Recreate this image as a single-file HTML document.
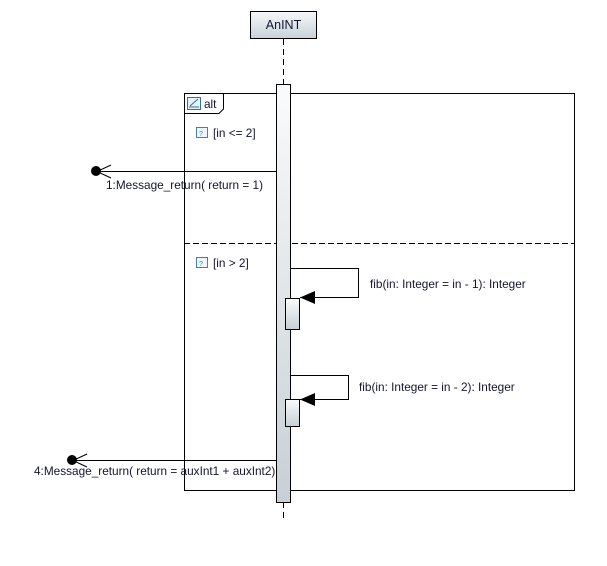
<!DOCTYPE html>
<html><head><meta charset="utf-8"><style>
html,body{margin:0;padding:0;background:#fff}
svg text{font-family:"Liberation Sans",sans-serif;font-size:11.8px;fill:#141430}
</style></head><body>
<svg width="607" height="561" viewBox="0 0 607 561" xmlns="http://www.w3.org/2000/svg">
<defs>
<linearGradient id="g" x1="0" y1="0" x2="0" y2="1"><stop offset="0" stop-color="#f6f8fa"/><stop offset="1" stop-color="#c8d2d8"/></linearGradient>
<linearGradient id="ga" x1="0" y1="0" x2="0" y2="1"><stop offset="0" stop-color="#fafbfc"/><stop offset="1" stop-color="#c6d0d6"/></linearGradient>
</defs>
<rect x="250.5" y="11.5" width="66" height="27" fill="url(#g)" stroke="#000"/>
<text x="283.5" y="29" text-anchor="middle" style="font-size:12.5px">AnINT</text>
<line x1="283.5" y1="39" x2="283.5" y2="84" stroke="#000" stroke-dasharray="6,4"/>
<line x1="283.5" y1="502" x2="283.5" y2="520" stroke="#000" stroke-dasharray="6,4"/>
<rect x="184.5" y="93.5" width="390" height="397" fill="none" stroke="#000"/>
<path d="M184.5 113.5 H219 L223.5 109 V93.5" fill="none" stroke="#000"/>
<rect x="187.5" y="97.5" width="13" height="12" fill="#e8f2fa" stroke="#3070a0"/>
<path d="M189 107 H199 M190 106 L198 99" stroke="#3070a0" fill="none"/>
<text x="204" y="108">alt</text>
<line x1="184" y1="243.5" x2="575" y2="243.5" stroke="#000" stroke-dasharray="6,3"/>
<rect x="196.5" y="127.5" width="11" height="10" fill="#eef6fc" stroke="#3b80b8"/>
<text x="199" y="136" style="font-size:7px;fill:#3b80b8">?</text>
<text x="213" y="137">[in &lt;= 2]</text>
<rect x="196.5" y="257.5" width="11" height="10" fill="#eef6fc" stroke="#3b80b8"/>
<text x="199" y="266" style="font-size:7px;fill:#3b80b8">?</text>
<text x="213" y="267">[in &gt; 2]</text>
<rect x="276.5" y="84.5" width="14" height="418" fill="url(#ga)" stroke="#000"/>
<line x1="96" y1="171.5" x2="276" y2="171.5" stroke="#000"/>
<path d="M111 165 L97 171.5 L111 178" fill="none" stroke="#000"/>
<circle cx="96" cy="171" r="5" fill="#000"/>
<text x="106" y="189">1:Message_return( return = 1)</text>
<path d="M290.5 268.5 H358.5 V297.5 H300" fill="none" stroke="#000"/>
<polygon points="300,297.5 315,291 315,304" fill="#000"/>
<rect x="285.5" y="298.5" width="14" height="31" fill="url(#ga)" stroke="#000"/>
<text x="370" y="288">fib(in: Integer = in - 1): Integer</text>
<path d="M290.5 375.5 H348.5 V399.5 H300" fill="none" stroke="#000"/>
<polygon points="300,399.5 315,393 315,406" fill="#000"/>
<rect x="285.5" y="399.5" width="14" height="27" fill="url(#ga)" stroke="#000"/>
<text x="359" y="391">fib(in: Integer = in - 2): Integer</text>
<line x1="72" y1="460.5" x2="276" y2="460.5" stroke="#000"/>
<path d="M87 454 L73 460.5 L87 467" fill="none" stroke="#000"/>
<circle cx="72" cy="460" r="5" fill="#000"/>
<text x="34" y="475">4:Message_return( return = auxInt1 + auxInt2)</text>
</svg>
</body></html>
